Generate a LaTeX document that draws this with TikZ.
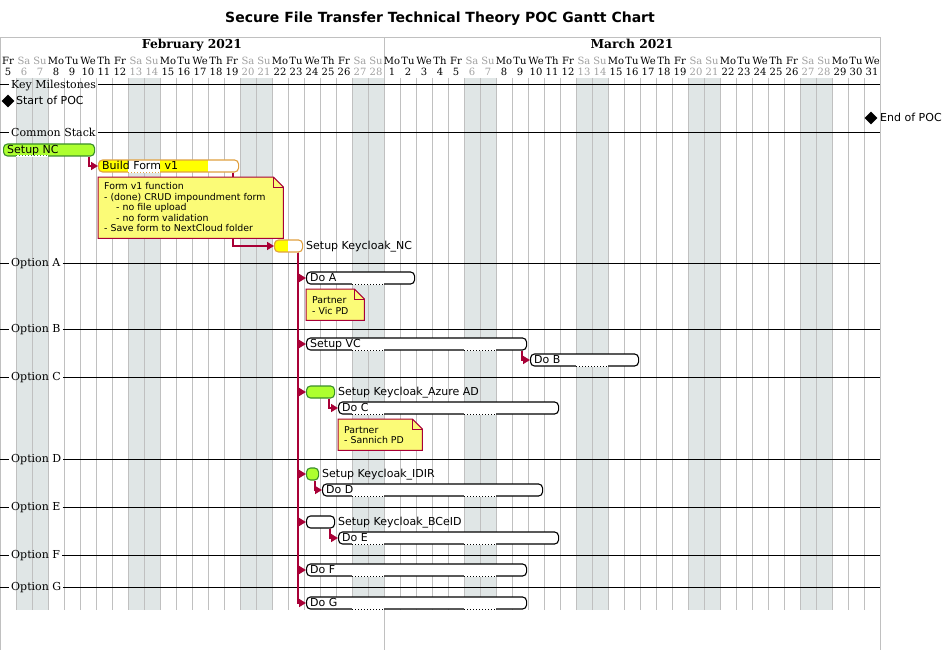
\documentclass[tikz,border=0pt]{standalone}
\usepackage{fontspec}
\setmainfont{DejaVu Sans}
\newfontfamily\dserif{DejaVu Serif}
\usetikzlibrary{arrows.meta,shapes.geometric}
\definecolor{crim}{HTML}{A80036}
\definecolor{notefill}{HTML}{FBFB77}
\definecolor{grn}{HTML}{ADFF2F}
\definecolor{grnb}{HTML}{3A8E2A}
\definecolor{ylw}{HTML}{FFFF00}
\definecolor{ylwb}{HTML}{E0A040}
\definecolor{wkend}{HTML}{E0E6E6}
\definecolor{gridc}{HTML}{C0C0C0}
\definecolor{wktext}{HTML}{A0A0A0}
\newcommand\gbar[5]{\node[barbox,#5,minimum width={#3-#2}] (#1) at (#2,#4) {};}
\newcommand\wkdot[4]{\draw[white,line width=1.2pt] (#1,#3)--(#2,#3);\draw[#4,line width=1pt,dash pattern=on 1pt off 2pt] (#1,#3)--(#2,#3);}
\newcommand\blbl[4]{\node[tasklbl] (#1) at (#2,#4+3.5) {#3};}
\newcommand\secline[3]{%
  \coordinate (s#1) at (0,#2); \coordinate (e#1) at (880,#2);
  \node[seclbl] (l#1) at (9,#2+3.5) {#3};
  \draw[sepl] (s#1) -- (s#1 -| l#1.west) (e#1 -| l#1.east) -- (e#1);}
\newcommand\notepath[1]{%
  \draw[notedraw] (#1.north west) -- ([xshift=-10pt]#1.north east) -- ([yshift=-10pt]#1.north east) -- (#1.south east) -- (#1.south west) -- cycle;
  \draw[notedraw,fill=none] ([xshift=-10pt]#1.north east) |- ([yshift=-10pt]#1.north east);}
\begin{document}
\begin{tikzpicture}[x=1pt,y=-1pt,
  barbox/.style={draw, rounded corners=4pt, minimum height=12pt, inner sep=0pt, anchor=west, line width=1.1pt},
  tasklbl/.style={font=\fontsize{11}{13}\selectfont, inner sep=0pt, anchor=base west},
  seclbl/.style={font=\dserif\fontsize{11}{13}\selectfont, inner xsep=2pt, inner ysep=0pt, anchor=base west},
  sepl/.style={black, line width=1pt},
  gridl/.style={gridc, line width=1pt},
  arr/.style={crim, line width=1.5pt, -{Triangle[length=7pt,width=8pt]}},
  notebg/.style={inner sep=0pt, anchor=north west},
  notedraw/.style={draw=crim, fill=notefill, line width=1pt},
  notetxt/.style={font=\fontsize{9.4}{10.5}\selectfont, align=left, inner sep=0pt, anchor=north west},
  daylbl/.style={font=\dserif\fontsize{10}{11}\selectfont, inner sep=0pt, anchor=base},
  monthlbl/.style={font=\dserif\bfseries\fontsize{12.3}{14}\selectfont, inner sep=0pt, anchor=base},
  msd/.style={diamond, fill=black, inner sep=0pt, minimum size=13pt}]
\useasboundingbox (0,0) rectangle (945,650);
% title
\node[font=\bfseries\fontsize{14}{16}\selectfont, inner sep=0pt, anchor=base] (title) at (440,23) {Secure File Transfer Technical Theory POC Gantt Chart};
% weekend shading
\foreach \k in {1,2,8,9,15,16,22,23,29,30,36,37,43,44,50,51} \fill[wkend] (16*\k,78) rectangle (16*\k+16,610);
% grid
\foreach \k in {1,...,54} \draw[gridl] (16*\k,78) -- (16*\k,610);
\draw[gridl] (0.5,650) -- (0.5,37.5) -- (880,37.5) -- (880,650);
\draw[gridl] (384,37.5) -- (384,650);
% header
\node[monthlbl] (feb) at (192,48.3) {February 2021};
\node[monthlbl] (mar) at (632,48.3) {March 2021};
\foreach \k in {0,...,54} {
  \pgfmathtruncatemacro\dw{mod(\k,7)}
  \pgfmathtruncatemacro\dn{\k<24 ? \k+5 : \k-23}
  \ifnum\dw=1 \def\dc{wktext}\else\ifnum\dw=2 \def\dc{wktext}\else\def\dc{black}\fi\fi
  \node[daylbl,text=\dc] (dw\k) at (16*\k+8,64.5) {\ifcase\dw Fr\or Sa\or Su\or Mo\or Tu\or We\or Th\fi};
  \node[daylbl,text=\dc] (dd\k) at (16*\k+8,75.2) {\dn};
}
% sections
\secline{km}{85}{Key Milestones}
\secline{cs}{133}{Common Stack}
\secline{oa}{263}{Option A}
\secline{ob}{329}{Option B}
\secline{oc}{377}{Option C}
\secline{od}{459}{Option D}
\secline{oe}{507}{Option E}
\secline{of}{555}{Option F}
\secline{og}{587}{Option G}
% milestones
\node[msd] (start) at (8,101) {};
\node[tasklbl] (startl) at (16,104.8) {Start of POC};
\node[msd] (end) at (871,118) {};
\node[tasklbl] (endl) at (880,121.8) {End of POC};
% Setup NC
\gbar{setupnc}{3}{94}{150}{draw=grnb, fill=grn}
\wkdot{16}{48}{156}{grnb}
\blbl{setupncl}{7}{Setup NC}{150}
% Build Form v1
\fill[white, rounded corners=4pt] (98,160) rectangle (238,172);
\begin{scope}
\clip[rounded corners=4pt] (98,160) rectangle (238,172);
\fill[ylw] (98,160) rectangle (128,172);
\fill[ylw] (160,160) rectangle (208,172);
\end{scope}
\gbar{buildform}{98}{238}{166}{draw=ylwb}
\wkdot{128}{160}{172}{ylwb}
\blbl{buildforml}{102}{Build Form v1}{166}
% Setup Keycloak_NC
\fill[white, rounded corners=4pt] (274,240) rectangle (302,252);
\begin{scope}
\clip[rounded corners=4pt] (274,240) rectangle (302,252);
\fill[ylw] (274,240) rectangle (288,252);
\end{scope}
\gbar{kcnc}{274}{302}{246}{draw=ylwb}
\blbl{kcncl}{306}{Setup Keycloak\_NC}{246}
% Option tasks
\gbar{doa}{306}{414}{278}{draw=black, fill=white}
\wkdot{352}{384}{284}{black}
\blbl{doal}{310}{Do A}{278}
\gbar{setupvc}{306}{526}{344}{draw=black, fill=white}
\wkdot{352}{384}{350}{black}\wkdot{464}{496}{350}{black}
\blbl{setupvcl}{310}{Setup VC}{344}
\gbar{dob}{530}{638}{360}{draw=black, fill=white}
\wkdot{576}{608}{366}{black}
\blbl{dobl}{534}{Do B}{360}
\gbar{kcaz}{306}{334}{392}{draw=grnb, fill=grn}
\blbl{kcazl}{338}{Setup Keycloak\_Azure AD}{392}
\gbar{doc}{338}{558}{408}{draw=black, fill=white}
\wkdot{352}{384}{414}{black}\wkdot{464}{496}{414}{black}
\blbl{docl}{342}{Do C}{408}
\gbar{kcidir}{306}{318}{474}{draw=grnb, fill=grn}
\blbl{kcidirl}{322}{Setup Keycloak\_IDIR}{474}
\gbar{dod}{322}{542}{490}{draw=black, fill=white}
\wkdot{352}{384}{496}{black}\wkdot{464}{496}{496}{black}
\blbl{dodl}{326}{Do D}{490}
\gbar{kcbc}{306}{334}{522}{draw=black, fill=white}
\blbl{kcbcl}{338}{Setup Keycloak\_BCeID}{522}
\gbar{doe}{338}{558}{538}{draw=black, fill=white}
\wkdot{352}{384}{544}{black}\wkdot{464}{496}{544}{black}
\blbl{doel}{342}{Do E}{538}
\gbar{dof}{306}{526}{570}{draw=black, fill=white}
\wkdot{352}{384}{576}{black}\wkdot{464}{496}{576}{black}
\blbl{dofl}{310}{Do F}{570}
\gbar{dog}{306}{526}{603}{draw=black, fill=white}
\wkdot{352}{384}{609}{black}\wkdot{464}{496}{609}{black}
\blbl{dogl}{310}{Do G}{603}
% connectors
\draw[arr] ([xshift=-6pt]setupnc.south east) |- (buildform.west);
\draw[arr] ([xshift=-6pt]buildform.south east) |- (kcnc.west);
\draw[arr] ([xshift=-5pt]kcnc.south east) |- (doa.west);
\draw[arr] ([xshift=-5pt]kcnc.south east) |- (setupvc.west);
\draw[arr] ([xshift=-5pt]kcnc.south east) |- (kcaz.west);
\draw[arr] ([xshift=-5pt]kcnc.south east) |- (kcidir.west);
\draw[arr] ([xshift=-5pt]kcnc.south east) |- (kcbc.west);
\draw[arr] ([xshift=-5pt]kcnc.south east) |- (dof.west);
\draw[arr] ([xshift=-5pt]kcnc.south east) |- (dog.west);
\draw[arr] ([xshift=-5pt]setupvc.south east) |- (dob.west);
\draw[arr] ([xshift=-6pt]kcaz.south east) |- (doc.west);
\draw[arr] ([xshift=-4pt]kcidir.south east) |- (dod.west);
\draw[arr] ([xshift=-5pt]kcbc.south east) |- (doe.west);
% notes
\node[notebg, minimum width=185pt, minimum height=61pt] (note1) at (98,177) {};
\notepath{note1}
\node[notetxt] (note1t) at (104,182.3) {Form v1 function\\- (done) CRUD impoundment form\\\hspace*{12pt}- no file upload\\\hspace*{12pt}- no form validation\\- Save form to NextCloud folder};
\node[notebg, minimum width=58pt, minimum height=31pt] (note2) at (306,289) {};
\notepath{note2}
\node[notetxt] (note2t) at (312,296.5) {Partner\\- Vic PD};
\node[notebg, minimum width=84pt, minimum height=31pt] (note3) at (338,419) {};
\notepath{note3}
\node[notetxt] (note3t) at (344,426) {Partner\\- Sannich PD};
\end{tikzpicture}
\end{document}
